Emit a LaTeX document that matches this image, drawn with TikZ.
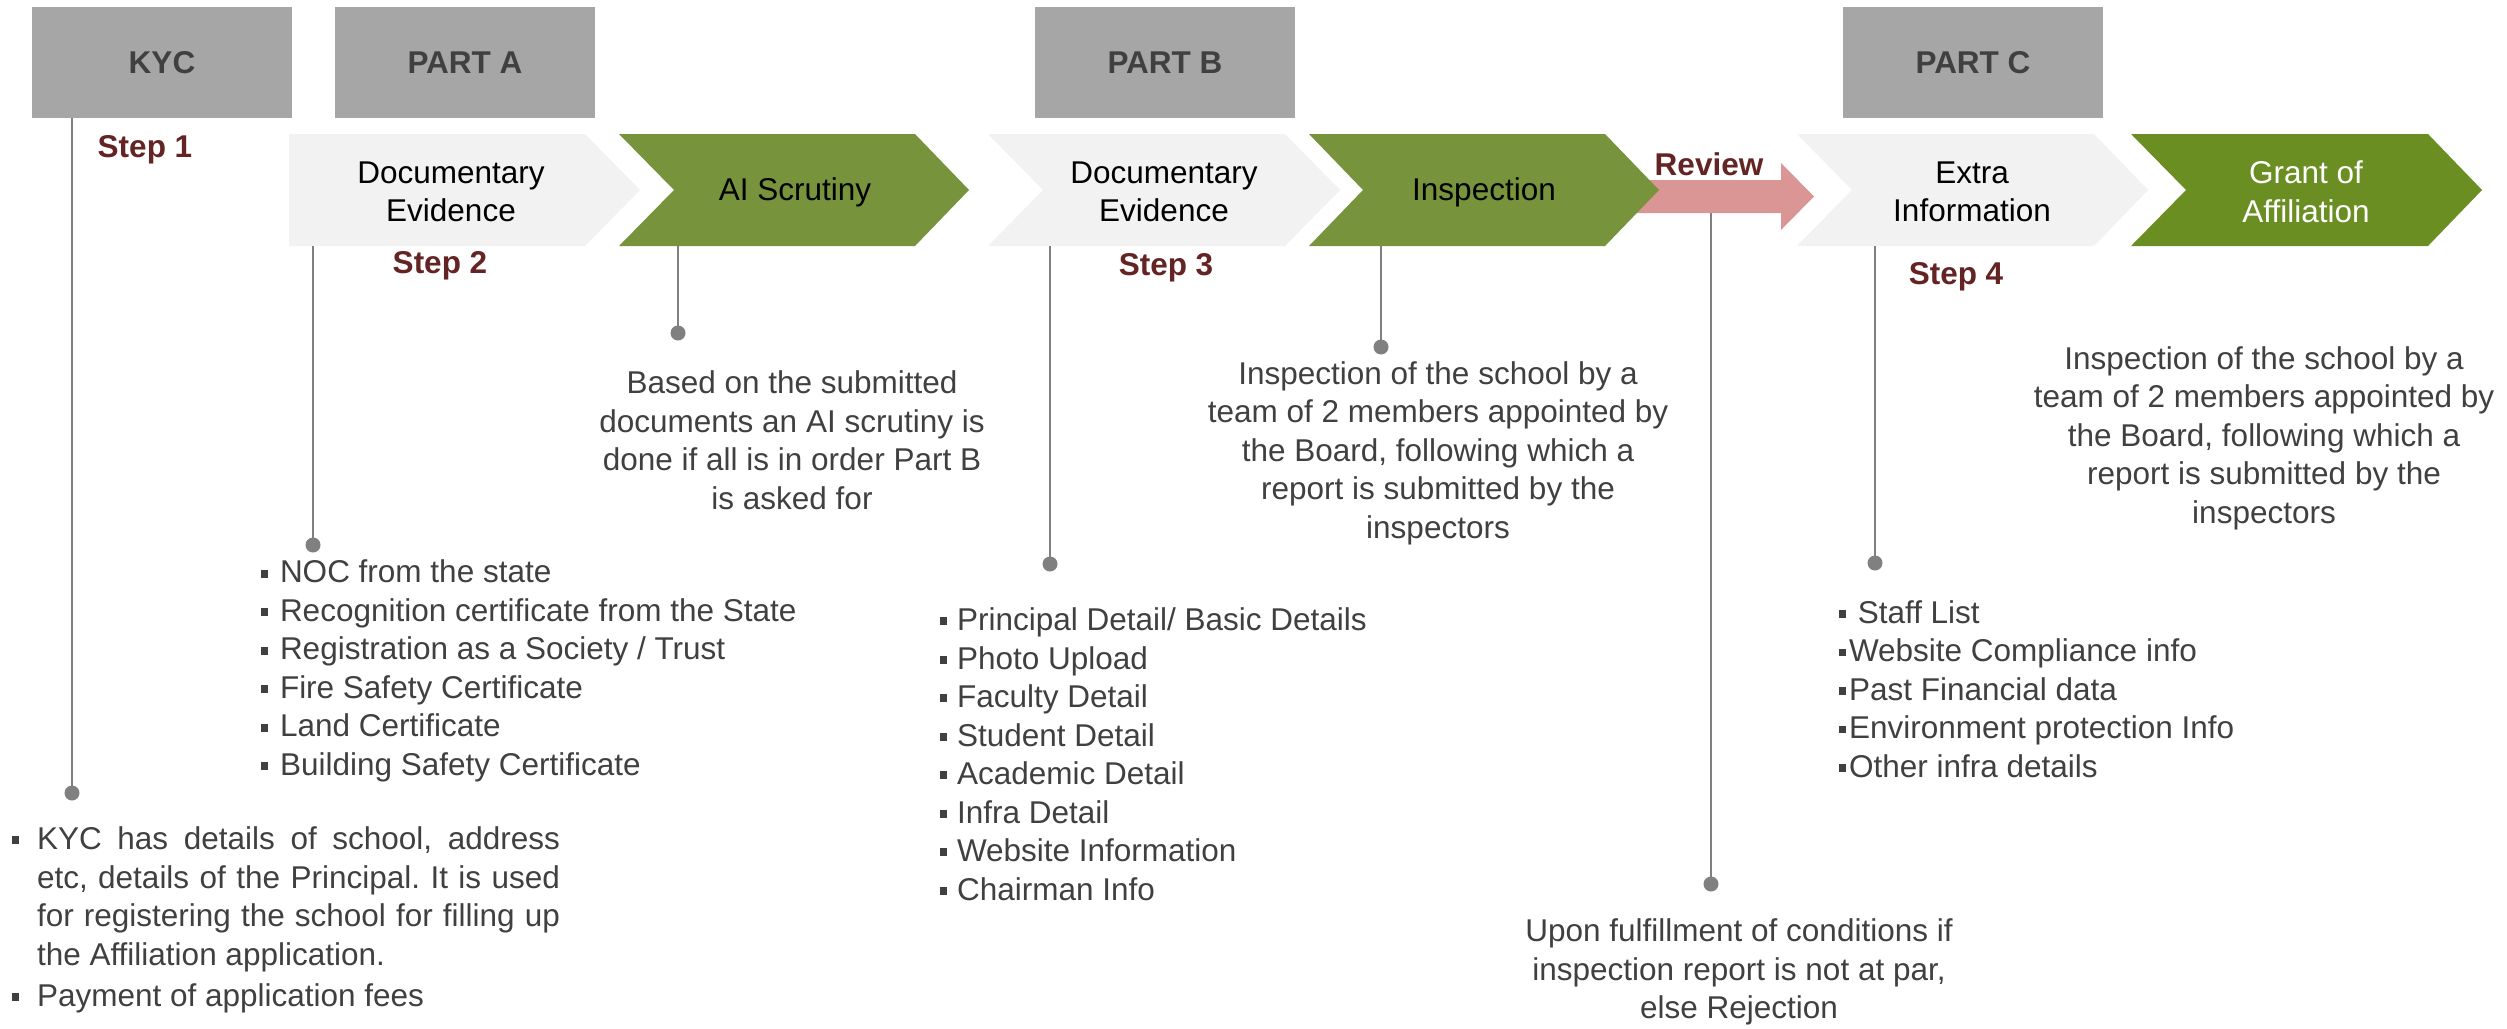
\documentclass[tikz,border=0pt]{standalone}
\usepackage{fontspec}
\setmainfont{Liberation Sans}
\definecolor{hdr}{HTML}{A6A6A6}
\definecolor{hdrtxt}{HTML}{404040}
\definecolor{lite}{HTML}{F2F2F2}
\definecolor{grn}{HTML}{77933C}
\definecolor{grnb}{HTML}{6B8E23}
\definecolor{revc}{HTML}{D99694}
\definecolor{stepc}{HTML}{632423}
\definecolor{linec}{HTML}{808080}
\definecolor{bodyc}{HTML}{404040}
\newcommand{\bsq}{\rule[0.17em]{0.22em}{0.25em}}
\newcommand{\bl}[1]{\makebox[#1][l]{\bsq}}
\frenchspacing
\begin{document}
\begin{tikzpicture}[x=1pt,y=-1pt,
  every node/.style={inner sep=0pt, outer sep=0pt},
  fnt/.style={font=\fontsize{31.5}{38.5}\selectfont},
  hdrbox/.style={fill=hdr, minimum width=260pt, minimum height=111pt, text=hdrtxt, font=\fontsize{31.5}{38.5}\selectfont\bfseries},
  steplbl/.style={text=stepc, font=\fontsize{31.5}{38.5}\selectfont\bfseries},
  chevtxt/.style={fnt, align=center, text=black},
  bodytxt/.style={fnt, align=center, text=bodyc},
  listtxt/.style={fnt, align=left, text=bodyc, anchor=west},
  conn/.style={draw=linec, line width=2.5pt},
  dot/.style={circle, fill=linec, minimum size=15pt}
]
\useasboundingbox (0,0) rectangle (2507,1028);
\fill[white] (0,0) rectangle (2507,1028);

% header boxes
\node[hdrbox] (kyc) at (162,62.5) {KYC};
\node[hdrbox] (parta) at (465,62.5) {PART A};
\node[hdrbox] (partb) at (1165,62.5) {PART B};
\node[hdrbox] (partc) at (1973,62.5) {PART C};

% review arrow (behind inspection chevron)
\fill[revc] (1620,180) -- (1781,180) -- (1781,163) -- (1814,196.5) -- (1781,230) -- (1781,213) -- (1620,213) -- cycle;

% chevrons
\fill[lite] (289,134) -- (585,134) -- (640,190) -- (585,246) -- (289,246) -- cycle;
\fill[grn] (619,134) -- (915,134) -- (969,190) -- (915,246) -- (619,246) -- (674,190) -- cycle;
\fill[lite] (988,134) -- (1285,134) -- (1340,190) -- (1285,246) -- (988,246) -- (1043,190) -- cycle;
\fill[grn] (1309,134) -- (1605,134) -- (1659,190) -- (1605,246) -- (1309,246) -- (1363,190) -- cycle;
\fill[lite] (1797,134) -- (2094,134) -- (2148,190) -- (2094,246) -- (1797,246) -- (1852,190) -- cycle;
\fill[grnb] (2131,134) -- (2428,134) -- (2482,190) -- (2428,246) -- (2131,246) -- (2186,190) -- cycle;

% chevron texts
\node[chevtxt] (docA) at (451,192) {Documentary\\Evidence};
\node[chevtxt] (ai) at (795,192) {AI Scrutiny};
\node[chevtxt] (docB) at (1164,192) {Documentary\\Evidence};
\node[chevtxt] (insp) at (1484,192) {Inspection};
\node[chevtxt] (extra) at (1972,192) {Extra\\Information};
\node[chevtxt, text=white] (grant) at (2306,192) {Grant of\\Affiliation};
\node[steplbl] (review) at (1709,164) {Review};

% chevron bottoms
\coordinate (docAb) at (451,246);
\coordinate (aib) at (795,246);
\coordinate (docBb) at (1164,246);
\coordinate (inspb) at (1484,246);
\coordinate (revb) at (1709,213);
\coordinate (extb) at (1972,246);

% step labels
\node[steplbl] (s1) at (145,150) {Step 1};
\node[steplbl] (s2) at (440,266) {Step 2};
\node[steplbl] (s3) at (1166,268) {Step 3};
\node[steplbl] (s4) at (1956,277) {Step 4};

% dots
\node[dot] (d1) at (72,793) {};
\node[dot] (d2) at (313,545) {};
\node[dot] (d3) at (678,333) {};
\node[dot] (d4) at (1050,564) {};
\node[dot] (d5) at (1381,347) {};
\node[dot] (d6) at (1711,884) {};
\node[dot] (d7) at (1875,563) {};

% connectors
\draw[conn] (d1.center) -- (d1 |- kyc.south);
\draw[conn] (d2.center) -- (d2 |- docAb);
\draw[conn] (d3.center) -- (d3 |- aib);
\draw[conn] (d4.center) -- (d4 |- docBb);
\draw[conn] (d5.center) -- (d5 |- inspb);
\draw[conn] (d6.center) -- (d6 |- revb);
\draw[conn] (d7.center) -- (d7 |- extb);

% descriptive texts
\node[bodytxt] (aitxt) at (792,440) {Based on the submitted\\documents an AI scrutiny is\\done if all is in order Part B\\is asked for};
\node[bodytxt] (insptxt) at (1438,453) {Inspection of the school by a\\team of 2 members appointed by\\the Board, following which a\\report is submitted by the\\inspectors};
\node[bodytxt] (ctxt) at (2264,438) {Inspection of the school by a\\team of 2 members appointed by\\the Board, following which a\\report is submitted by the\\inspectors};
\node[bodytxt] (revtxt) at (1739,972) {Upon fulfillment of conditions if\\inspection report is not at par,\\else Rejection};

% lists
\node[listtxt] (listA) at (261,671) {\bl{19pt}NOC from the state\\\bl{19pt}Recognition certificate from the State\\\bl{19pt}Registration as a Society / Trust\\\bl{19pt}Fire Safety Certificate\\\bl{19pt}Land Certificate\\\bl{19pt}Building Safety Certificate};
\node[listtxt] (listB) at (940,754) {\bl{17pt}Principal Detail/ Basic Details\\\bl{17pt}Photo Upload\\\bl{17pt}Faculty Detail\\\bl{17pt}Student Detail\\\bl{17pt}Academic Detail\\\bl{17pt}Infra Detail\\\bl{17pt}Website Information\\\bl{17pt}Chairman Info};
\node[listtxt] (listC) at (1839,689) {\bl{10pt}\ Staff List\\\bl{10pt}Website Compliance info\\\bl{10pt}Past Financial data\\\bl{10pt}Environment protection Info\\\bl{10pt}Other infra details};
\node[listtxt] (listK) at (12,920) {\bl{25pt}\makebox[523pt][s]{KYC has details of school, address}\\\hspace*{25pt}\makebox[523pt][s]{etc, details of the Principal. It is used}\\\hspace*{25pt}\makebox[523pt][s]{for registering the school for filling up}\\\hspace*{25pt}the Affiliation application.\\[3pt]\bl{25pt}Payment of application fees};
\end{tikzpicture}
\end{document}
